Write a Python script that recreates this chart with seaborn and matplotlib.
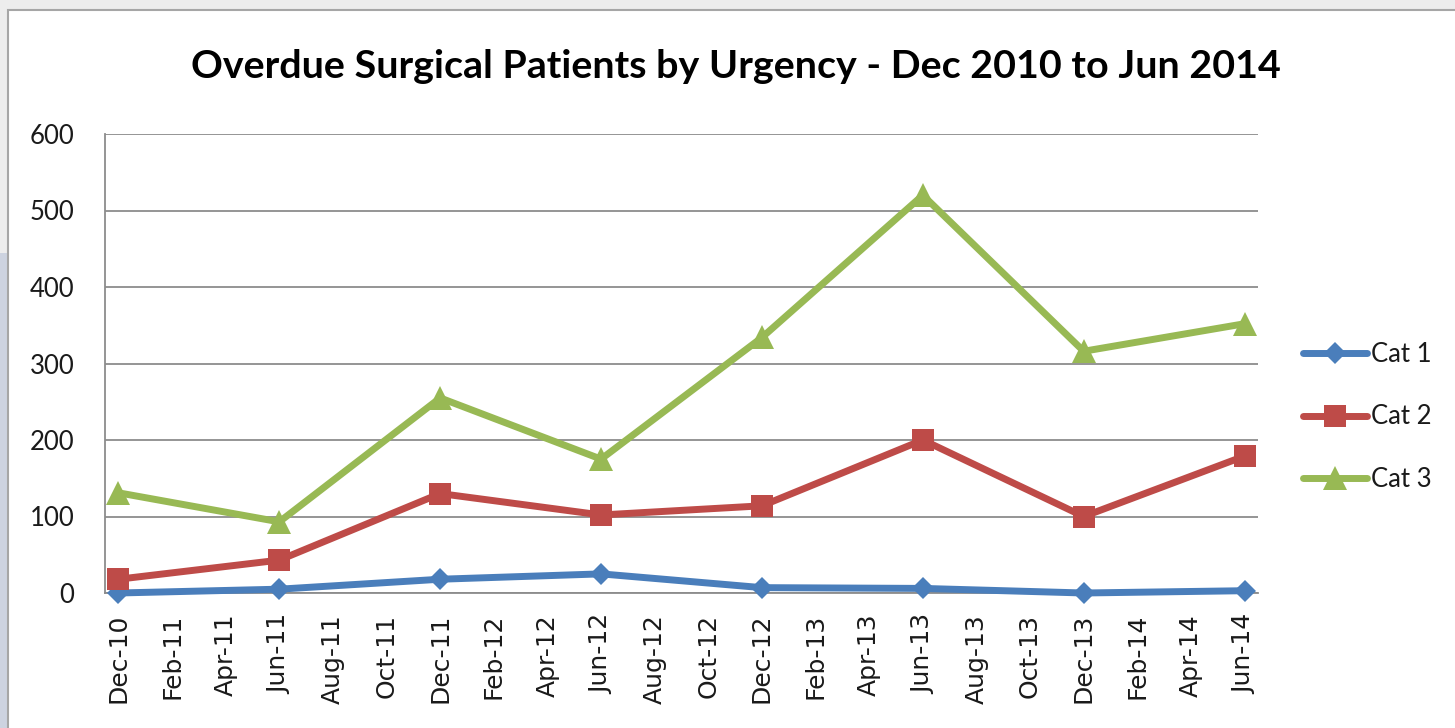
import numpy as np
import pandas as pd
import matplotlib
matplotlib.use("Agg")
import matplotlib.pyplot as plt
import seaborn as sns
from matplotlib.patches import Rectangle
from matplotlib.ticker import FixedLocator

# ---- data ----
tick_labels = ["Dec-10", "Feb-11", "Apr-11", "Jun-11", "Aug-11", "Oct-11",
               "Dec-11", "Feb-12", "Apr-12", "Jun-12", "Aug-12", "Oct-12",
               "Dec-12", "Feb-13", "Apr-13", "Jun-13", "Aug-13", "Oct-13",
               "Dec-13", "Feb-14", "Apr-14", "Jun-14"]
point_months = ["Dec-10", "Jun-11", "Dec-11", "Jun-12",
                "Dec-12", "Jun-13", "Dec-13", "Jun-14"]
cat1 = [0, 5, 18, 25, 7, 6, 0, 3]
cat2 = [18, 43, 130, 102, 114, 200, 100, 179]
cat3 = [131, 93, 255, 175, 334, 520, 316, 352]
series_names = ["Cat 1", "Cat 2", "Cat 3"]
colors = ["#4A7EBB", "#BE4B48", "#98B954"]
markers = ["D", "s", "^"]
msizes = [11.5, 15.5, 17]

month_idx = {m: 2 * i for i, m in enumerate(tick_labels)}
x_pos = [month_idx[m] for m in point_months]

df = pd.concat([
    pd.DataFrame({"x": x_pos, "value": vals, "series": name})
    for name, vals in zip(series_names, [cat1, cat2, cat3])
])

sns.set_theme(style="white")
plt.rcParams["font.family"] = ["Lato", "DejaVu Sans"]

W, H = 1455, 728
fig = plt.figure(figsize=(W / 100, H / 100), dpi=100)
fig.patch.set_facecolor("#EDEDED")

# chart area frame + left decoration
fig.patches.append(Rectangle((0, 0), 8 / W, (728 - 253) / H, transform=fig.transFigure,
                             facecolor="#CDD3E0", edgecolor="none", zorder=-10))
fig.patches.append(Rectangle((8 / W, -0.01), 1.0, (728 - 10) / H + 0.01,
                             transform=fig.transFigure, facecolor="white",
                             edgecolor="#A6A6A6", linewidth=1.5, zorder=-10))

ax = fig.add_axes([105 / W, (H - 593) / H, (1258 - 105) / W, (593 - 134) / H])
ax.set_zorder(1)
ax.set_facecolor("none")

for name, col, mk, ms in zip(series_names, colors, markers, msizes):
    sub = df[df["series"] == name]
    sns.lineplot(data=sub, x="x", y="value", ax=ax, color=col, linewidth=5,
                 marker=mk, markersize=ms, markeredgewidth=0, label=name,
                 clip_on=False, zorder=3)

ax.set_xlim(-0.5, 42.5)
ax.set_ylim(0, 600)
ax.set_xlabel("")
ax.set_ylabel("")

# y axis
ax.set_yticks(np.arange(0, 601, 100))
ax.yaxis.grid(True, color="#8C8C8C", linewidth=1.3)
ax.set_axisbelow(True)
ax.tick_params(axis="y", which="major", direction="out", length=8, width=1.2,
               color="#8C8C8C", pad=14, labelsize=18.5, labelcolor="#1a1a1a")

# x axis
ax.set_xticks(list(range(0, 43, 2)))
ax.set_xticklabels(tick_labels, rotation=90, fontsize=18, color="#1a1a1a")
for t in ax.get_xticklabels():
    t.set_fontfamily("DejaVu Sans")
ax.xaxis.set_minor_locator(FixedLocator(list(np.arange(-0.5, 42, 2))))
ax.tick_params(axis="x", which="major", length=0, pad=15)
ax.tick_params(axis="x", which="minor", direction="out", length=9, width=1.2,
               color="#8C8C8C")

for s in ["top", "right"]:
    ax.spines[s].set_visible(False)
for s in ["left", "bottom"]:
    ax.spines[s].set_color("#8C8C8C")
    ax.spines[s].set_linewidth(1.3)

# title
fig.text(736 / W, 1 - 66 / H, "Overdue Surgical Patients by Urgency - Dec 2010 to Jun 2014",
         ha="center", va="center", fontsize=28.4, fontweight="bold", color="black",
         family=["Lato", "DejaVu Sans"])

# legend
leg = ax.legend(loc="center left", bbox_to_anchor=(1303 / W, 1 - 417 / H),
                bbox_transform=fig.transFigure, frameon=False, fontsize=18.5,
                handlelength=2.5, handletextpad=0.15, labelspacing=1.45,
                borderpad=0, borderaxespad=0)
for t in leg.get_texts():
    t.set_color("#1a1a1a")

fig.savefig("out.png", dpi=100, facecolor=fig.get_facecolor())
